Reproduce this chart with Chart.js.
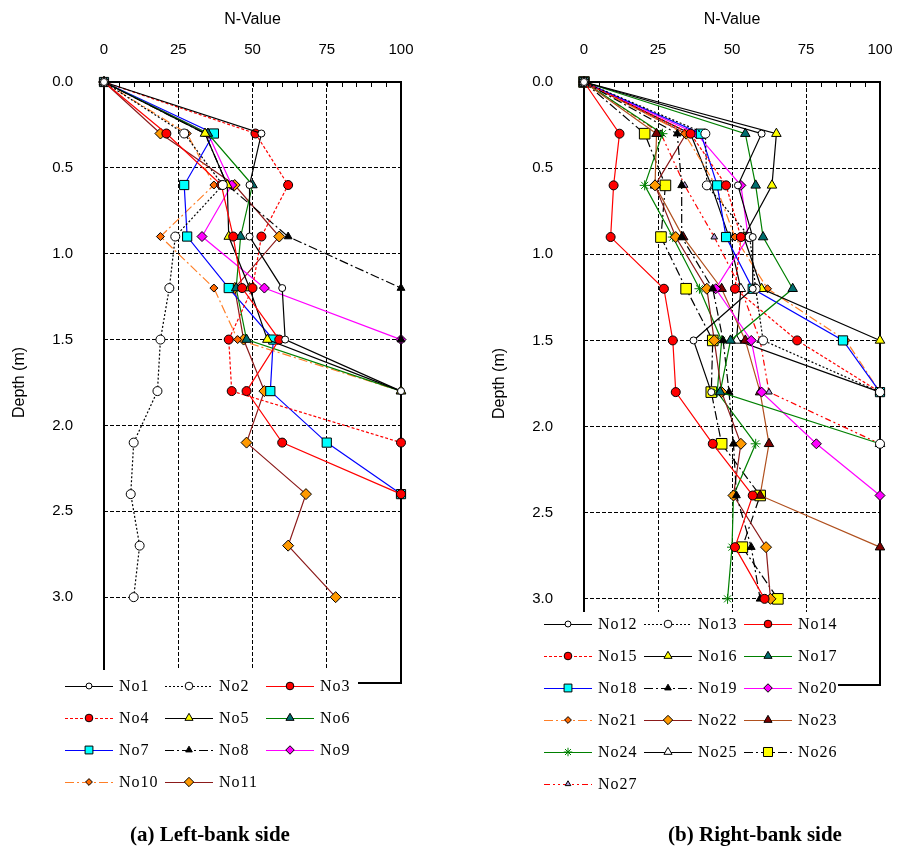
<!DOCTYPE html>
<html>
<head>
<meta charset="utf-8">
<script src="https://cdn.jsdelivr.net/npm/chart.js@4.4.1/dist/chart.umd.min.js"></script>
<style>
  body { margin: 0; background: #fff; width: 898px; height: 856px; position: relative; overflow: hidden; }
  canvas { position: absolute; top: 0; }
  #left { left: 0; }
  #right { left: 480px; }
</style>
</head>
<body>
<canvas id="left" width="449" height="856"></canvas>
<canvas id="right" width="436" height="856"></canvas>
<script>
// depth of each reading (m), N-values are listed top to bottom
const depths = [0, 0.3, 0.6, 0.9, 1.2, 1.5, 1.8, 2.1, 2.4, 2.7, 3.0];

// left bank
const no1 = [0, 53, 49, 49, 60, 61, 100];
const no2 = [0, 27, 40, 24, 22, 19, 18, 10, 9, 12, 10];
const no3 = [0, 21, 39.5, 43.5, 46.5, 59, 48, 60, 100];
const no4 = [0, 51, 62, 53, 50, 42, 43, 100];
const no5 = [0, 34, 41.5, 42, 49, 55, 100];
const no6 = [0, 35, 50, 46, 44.5, 48, 100];
const no7 = [0, 37, 27, 28, 42, 57, 56, 75, 100];
const no8 = [0, 34, 41.5, 62, 100, 100, 100];
const no9 = [0, 35, 43, 33, 54, 100];
const no10 = [0, 28, 37, 19, 37, 45, 100];
const no11 = [0, 19, 44, 59, 44, 47, 54, 48, 68, 62, 78];

// right bank
const no12 = [0, 60, 52, 57, 57, 37, 43];
const no13 = [0, 41, 41.5, 56, 58, 60.5, 100, 100];
const no14 = [0, 12, 10, 9, 27, 30, 31, 43.5, 57, 51, 61];
const no15 = [0, 36, 48, 53, 51, 72, 100];
const no16 = [0, 65, 63.5, 54, 60, 100];
const no17 = [0, 54.5, 58, 60.5, 70.5, 49.5, 46, 100];
const no18 = [0, 39.5, 45, 48, 57, 87.5, 100];
const no19 = [0, 31.5, 33, 33, 43.5, 47, 49, 50.5, 51.5, 56.5, 59.5];
const no20 = [0, 38, 53, 55.5, 44.5, 56.5, 60, 78.5, 100];
const no21 = [0, 34, 44.5, 51, 62, 88.5, 100];
const no22 = [0, 34.5, 24, 31, 41.5, 44, 46.5, 53, 50.5, 61.5, 63];
const no23 = [0, 24.5, 24, 33.5, 46.5, 54.5, 59.5, 62.5, 59.5, 100];
const no24 = [0, 26.5, 20.5, 30, 39, 46.5, 45, 58, 50.5, 50, 48.5];
const no25 = [0, 36, 43, 49, 53, 51.5, 100];
const no26 = [0, 20.5, 27.5, 26, 34.5, 43.5, 43, 46.5, 59.5, 53.5, 65.5];
const no27 = [0, 26, 34, 44, 53, 59.5, 62.5, 100];

const leftValues = [no1, no2, no3, no4, no5, no6, no7, no8, no9, no10, no11];
const rightValues = [no12, no13, no14, no15, no16, no17, no18, no19, no20, no21, no22, no23, no24, no25, no26, no27];

// line / marker styles
const DASH = [3, 2], DOT = [2, 2], DASHDOT = [9, 3, 2, 3], DASHDOTDOT = [6, 3, 2, 3, 2, 3];
const ORANGE_LINE = '#ff7f27', DARKRED = '#8b1a1a', SIENNA = '#b0501e';
const leftStyles = [
  { label: 'No1', line: '#000', dash: [], point: 'circle', r: 3.5, fill: '#fff' },
  { label: 'No2', line: '#000', dash: DOT, point: 'circle', r: 4.5, fill: '#fff' },
  { label: 'No3', line: '#ff0000', dash: [], point: 'circle', r: 4.5, fill: '#ff0000' },
  { label: 'No4', line: '#ff0000', dash: DASH, point: 'circle', r: 4.5, fill: '#ff0000' },
  { label: 'No5', line: '#000', dash: [], point: 'triangle', r: 5.5, fill: '#ffff00' },
  { label: 'No6', line: '#008000', dash: [], point: 'triangle', r: 5.5, fill: '#006f6f' },
  { label: 'No7', line: '#0000ff', dash: [], point: 'rect', r: 6.5, fill: '#00ffff' },
  { label: 'No8', line: '#000', dash: DASHDOT, point: 'triangle', r: 4.5, fill: '#000' },
  { label: 'No9', line: '#ff00ff', dash: [], point: 'rectRot', r: 5, fill: '#ff00ff' },
  { label: 'No10', line: ORANGE_LINE, dash: DASHDOT, point: 'rectRot', r: 4, fill: '#ff6a00' },
  { label: 'No11', line: DARKRED, dash: [], point: 'rectRot', r: 5.5, fill: '#ff9900' }
];
const rightStyles = [
  { label: 'No12', line: '#000', dash: [], point: 'circle', r: 3.5, fill: '#fff' },
  { label: 'No13', line: '#000', dash: DOT, point: 'circle', r: 4.5, fill: '#fff' },
  { label: 'No14', line: '#ff0000', dash: [], point: 'circle', r: 4.5, fill: '#ff0000' },
  { label: 'No15', line: '#ff0000', dash: DASH, point: 'circle', r: 4.5, fill: '#ff0000' },
  { label: 'No16', line: '#000', dash: [], point: 'triangle', r: 5.5, fill: '#ffff00' },
  { label: 'No17', line: '#008000', dash: [], point: 'triangle', r: 5.5, fill: '#006f6f' },
  { label: 'No18', line: '#0000ff', dash: [], point: 'rect', r: 6.5, fill: '#00ffff' },
  { label: 'No19', line: '#000', dash: DASHDOT, point: 'triangle', r: 4.5, fill: '#000' },
  { label: 'No20', line: '#ff00ff', dash: [], point: 'rectRot', r: 5, fill: '#ff00ff' },
  { label: 'No21', line: ORANGE_LINE, dash: DASHDOT, point: 'rectRot', r: 4, fill: '#ff6a00' },
  { label: 'No22', line: DARKRED, dash: [], point: 'rectRot', r: 5.5, fill: '#ff9900' },
  { label: 'No23', line: SIENNA, dash: [], point: 'triangle', r: 5.5, fill: '#7f0000' },
  { label: 'No24', line: '#008000', dash: [], point: 'star', r: 5, fill: '#008000', edge: '#008000' },
  { label: 'No25', line: '#000', dash: [], point: 'triangle', r: 5.5, fill: '#fff' },
  { label: 'No26', line: '#000', dash: DASHDOT, point: 'rect', r: 7.5, fill: '#ffff00' },
  { label: 'No27', line: '#ff0000', dash: DASHDOTDOT, point: 'triangle', r: 3.8, fill: '#b39ddb' }
];

const xTicks = [0, 25, 50, 75, 100];

function makeDatasets(values, styles) {
  return values.map((vals, k) => {
    const s = styles[k];
    return {
      label: s.label,
      data: vals.map((v, i) => ({ x: v, y: depths[i] })),
      showLine: true,
      tension: 0,
      borderColor: s.line,
      borderWidth: 1.2,
      borderDash: s.dash,
      pointStyle: s.point,
      pointRadius: s.r,
      pointHoverRadius: s.r,
      pointBackgroundColor: s.fill,
      pointBorderColor: s.edge || '#000',
      pointBorderWidth: 1,
      clip: false
    };
  });
}

// frame and small inner ticks along the top axis
const framePlugin = {
  id: 'frame',
  beforeDatasetsDraw(chart) {
    const { ctx, chartArea: a } = chart;
    const x = chart.scales.x;
    ctx.save();
    ctx.strokeStyle = '#000';
    ctx.lineWidth = 1;
    for (let v = 5; v < 100; v += 5) {
      const px = Math.round(x.getPixelForValue(v)) + 0.5;
      ctx.beginPath();
      ctx.moveTo(px, a.top);
      ctx.lineTo(px, a.top + 5);
      ctx.stroke();
    }
    ctx.lineWidth = 2;
    ctx.strokeRect(a.left, a.top, a.right - a.left, a.bottom - a.top);
    ctx.restore();
  }
};

// legend box drawn over the lower part of the plot, plus caption
const boxLegendPlugin = {
  id: 'boxLegend',
  afterDraw(chart, args, opts) {
    const ctx = chart.ctx;
    ctx.save();
    ctx.fillStyle = '#fff';
    ctx.fillRect(opts.box[0], opts.box[1], opts.box[2], opts.box[3]);
    chart.data.datasets.forEach((ds, i) => {
      const x0 = opts.cols[i % 3];
      const y = opts.top + Math.floor(i / 3) * opts.gap;
      ctx.strokeStyle = ds.borderColor;
      ctx.lineWidth = 1.2;
      ctx.setLineDash(ds.borderDash);
      ctx.beginPath();
      ctx.moveTo(x0, y + 0.5);
      ctx.lineTo(x0 + 48, y + 0.5);
      ctx.stroke();
      ctx.setLineDash([]);
      ctx.fillStyle = ds.pointBackgroundColor;
      ctx.strokeStyle = ds.pointBorderColor;
      ctx.lineWidth = 1;
      Chart.helpers.drawPoint(ctx, { pointStyle: ds.pointStyle, radius: ds.pointRadius * 0.85, borderWidth: 1, rotation: 0 }, x0 + 24, y);
      ctx.fillStyle = '#000';
      ctx.font = '16px "Liberation Serif"';
      ctx.letterSpacing = '1px';
      ctx.textAlign = 'left';
      ctx.textBaseline = 'middle';
      ctx.fillText(ds.label, x0 + 54, y + 1);
    });
    ctx.letterSpacing = '0px';
    ctx.font = 'bold 21px "Liberation Serif"';
    ctx.textAlign = 'center';
    ctx.textBaseline = 'middle';
    ctx.fillStyle = '#000';
    ctx.fillText(opts.caption, opts.capX, 836);
    ctx.restore();
  }
};

Chart.defaults.color = '#000';
Chart.defaults.font.family = '"Liberation Sans", Arial, sans-serif';

function makeChart(id, values, styles, pad, legend) {
  return new Chart(document.getElementById(id), {
    type: 'scatter',
    data: { datasets: makeDatasets(values, styles) },
    options: {
      responsive: false,
      animation: false,
      devicePixelRatio: 1,
      layout: { padding: pad },
      plugins: {
        legend: { display: false },
        tooltip: { enabled: false },
        boxLegend: legend
      },
      scales: {
        x: {
          type: 'linear',
          position: 'top',
          min: 0,
          max: 100,
          afterBuildTicks: s => { s.ticks = xTicks.map(v => ({ value: v })); },
          afterFit: s => { s.height = 82; },
          ticks: { padding: 23, font: { size: 15 } },
          grid: {
            drawTicks: false,
            color: c => (c.tick && (c.tick.value === 0 || c.tick.value === 100)) ? 'rgba(0,0,0,0)' : '#000',
            lineWidth: 1
          },
          border: { display: false, dash: [4, 2] },
          title: { display: true, text: 'N-Value', font: { size: 16 }, padding: { top: 10, bottom: 0 } }
        },
        y: {
          type: 'linear',
          reverse: true,
          min: 0,
          max: 3.5,
          afterFit: s => { s.width = 104; },
          ticks: {
            stepSize: 0.5,
            padding: 31,
            font: { size: 15 },
            callback: v => v > 3.01 ? '' : Number(v).toFixed(1)
          },
          grid: {
            drawTicks: false,
            color: c => (c.tick && (c.tick.value === 0 || c.tick.value === 3.5)) ? 'rgba(0,0,0,0)' : '#000',
            lineWidth: 1
          },
          border: { display: false, dash: [4, 2] },
          title: { display: true, text: 'Depth (m)', font: { size: 16 }, padding: { top: 10, bottom: 0 } }
        }
      }
    },
    plugins: [framePlugin, boxLegendPlugin]
  });
}

makeChart('left', leftValues, leftStyles,
  { left: 0, top: 0, right: 48, bottom: 173 },
  { box: [47, 670, 311, 130], cols: [65, 165, 266], top: 686, gap: 32, caption: '(a) Left-bank side', capX: 210 });

makeChart('right', rightValues, rightStyles,
  { left: 0, top: 0, right: 36, bottom: 171 },
  { box: [53, 612, 305, 188], cols: [64, 164, 264], top: 624, gap: 32, caption: '(b) Right-bank side', capX: 275 });
</script>
</body>
</html>
